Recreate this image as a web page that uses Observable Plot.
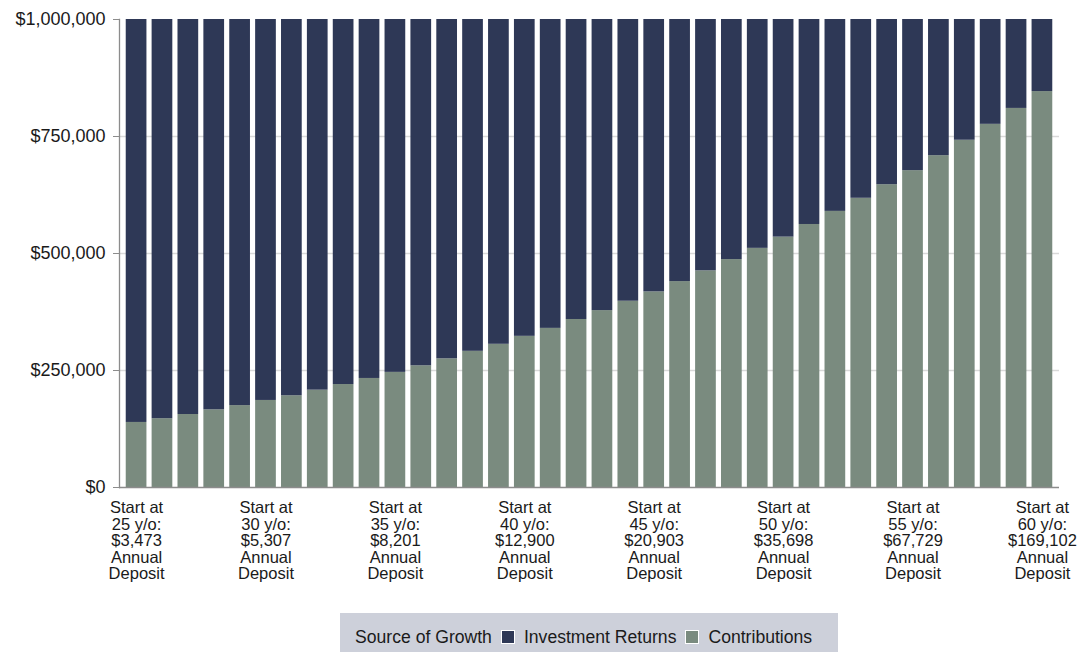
<!DOCTYPE html>
<html>
<head>
<meta charset="utf-8">
<script src="https://cdn.jsdelivr.net/npm/d3@7"></script>
<script src="https://cdn.jsdelivr.net/npm/@observablehq/plot@0.6"></script>
<style>
  body { margin: 0; background: #fff; font-family: "Liberation Sans", Arial, Helvetica, sans-serif; }
  #legend {
    margin-left: 340px; margin-top: 8px; width: 498px; height: 48px; box-sizing: border-box;
    background: #cdd0da; display: flex; align-items: center; padding-left: 15px;
    font-size: 17.6px; color: #1a1a1a; white-space: nowrap;
  }
  #legend .sw { display: inline-block; width: 12px; height: 12px; border: 1px solid #fff; margin: 0 9px 0 9px; }
</style>
</head>
<body>
<div id="chart"></div>
<div id="legend"></div>
<script>
const ages = [25,26,27,28,29,30,31,32,33,34,35,36,37,38,39,40,41,42,43,44,45,46,47,48,49,50,51,52,53,54,55,56,57,58,59,60];
const contributions = [139000,147000,156000,166000,175000,186000,196000,208000,220000,233000,246000,260000,275000,291000,306000,323000,340000,359000,378000,398000,418000,440000,463000,487000,511000,535000,562000,590000,618000,647000,677000,709000,742000,776000,810000,846000];
const investmentReturns = [861000,853000,844000,834000,825000,814000,804000,792000,780000,767000,754000,740000,725000,709000,694000,677000,660000,641000,622000,602000,582000,560000,537000,513000,489000,465000,438000,410000,382000,353000,323000,291000,258000,224000,190000,154000];
const labelAges = [25,30,35,40,45,50,55,60];
const annualDeposits = ["$3,473","$5,307","$8,201","$12,900","$20,903","$35,698","$67,729","$169,102"];
const yTicks = [0,250000,500000,750000,1000000];
const seriesNames = ["Investment Returns","Contributions"];
const seriesColors = ["#2e3856","#7a8b7f"];
const legendTitle = "Source of Growth";

const rows = [];
ages.forEach((a, i) => {
  rows.push({age: a, source: "Contributions", value: contributions[i]});
  rows.push({age: a, source: "Investment Returns", value: investmentReturns[i]});
});

const depositByAge = new Map(labelAges.map((a, i) => [a, annualDeposits[i]]));

const chart = Plot.plot({
  width: 1090,
  height: 605,
  marginLeft: 119,
  marginRight: 31,
  marginTop: 19,
  marginBottom: 118,
  style: {fontFamily: "'Liberation Sans', Arial, Helvetica, sans-serif", color: "#1a1a1a", background: "#fff"},
  x: {type: "band", domain: ages, paddingInner: 0.2, paddingOuter: 0.26},
  y: {domain: [0, 1000000]},
  color: {domain: seriesNames, range: seriesColors},
  marks: [
    Plot.gridY(yTicks.slice(1, -1), {stroke: "#d9d9d9", strokeOpacity: 1, strokeWidth: 1.3}),
    Plot.barY(rows, {x: "age", y: "value", fill: "source", order: ["Contributions", "Investment Returns"]}),
    Plot.frame({anchor: "left", stroke: "#8c8c8c", strokeWidth: 1.3}),
    Plot.ruleY([0], {stroke: "#8c8c8c", strokeWidth: 1.3}),
    Plot.axisY({ticks: yTicks, tickFormat: d => "$" + d3.format(",")(d), tickSize: 6, tickPadding: 8, fontSize: 18, stroke: "#8c8c8c", label: null}),
    Plot.axisX({ticks: labelAges, tickFormat: d => `Start at\n${d} y/o:\n${depositByAge.get(d)}\nAnnual\nDeposit`, tickSize: 0, tickPadding: 14, fontSize: 16.5, lineHeight: 1.0, label: null})
  ]
});
document.getElementById("chart").appendChild(chart);

const legend = document.getElementById("legend");
const t = document.createElement("span");
t.textContent = legendTitle;
legend.appendChild(t);
seriesNames.forEach((name, i) => {
  const sw = document.createElement("span");
  sw.className = "sw";
  sw.style.background = seriesColors[i];
  legend.appendChild(sw);
  const lab = document.createElement("span");
  lab.textContent = name;
  legend.appendChild(lab);
});
</script>
</body>
</html>
